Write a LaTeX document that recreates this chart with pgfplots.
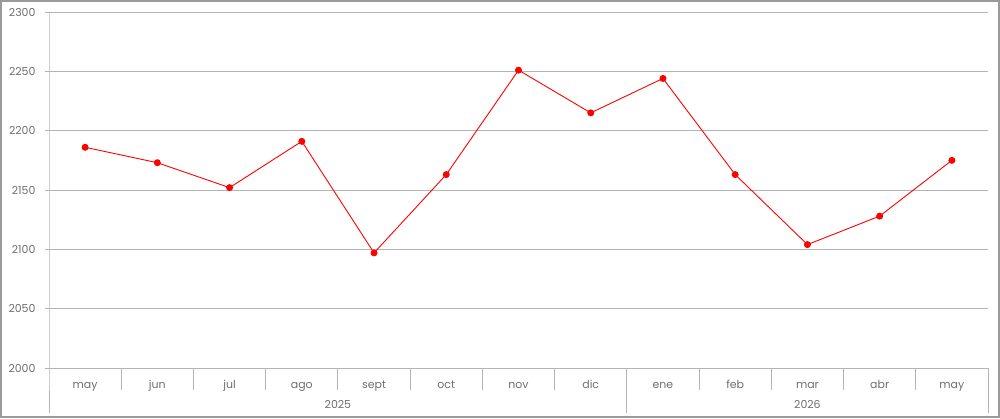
\documentclass[border=0pt]{standalone}
\usepackage{pgfplots}
\pgfplotsset{compat=1.18}
\usepackage{fontspec}
\setmainfont{Poppins}
\definecolor{gridgray}{HTML}{B4B4B4}
\definecolor{txtgray}{HTML}{6E6E6E}
\definecolor{framegray}{HTML}{9A9A9A}
\definecolor{linered}{HTML}{FF0000}
\begin{document}
\begin{tikzpicture}
\useasboundingbox (0,0) rectangle (1000bp,419bp);
\draw[framegray, line width=1.2bp] (1bp,2bp) rectangle (999bp,418bp);
\begin{axis}[
    at={(49bp,51bp)}, anchor=south west,
    scale only axis, width=939bp, height=356bp,
    xmin=-0.5, xmax=12.5, ymin=2000, ymax=2300,
    clip=false,
    axis line style={draw=none},
    ytick={2000,2050,...,2300},
    ymajorgrids, grid style={gridgray, line width=0.8bp},
    ytick pos=left, tick align=outside,
    major tick length=4bp,
    ytick style={gridgray, line width=0.8bp},
    xtick={0,...,12},
    xtick style={draw=none},
    xticklabels={may,jun,jul,ago,sept,oct,nov,dic,ene,feb,mar,abr,may},
    xticklabel style={anchor=base, yshift=-16bp},
    yticklabel style={xshift=-6bp},
    /pgf/number format/1000 sep={},
    /pgf/number format/assume math mode=true,
    tick label style={font=\fontsize{11}{13}\selectfont, text=txtgray},
]
\addplot[linered, line width=0.9bp, mark=*, mark size=3bp,
    mark options={fill=linered, draw=linered}]
    coordinates {(0,2186) (1,2173) (2,2152) (3,2191) (4,2097) (5,2163)
                 (6,2251) (7,2215) (8,2244) (9,2163) (10,2104) (11,2128) (12,2175)};
\draw[gridgray, line width=0.9bp] (rel axis cs:0,1) -- (rel axis cs:0,0)
    -- ([yshift=-45bp]rel axis cs:0,0);
\pgfplotsinvokeforeach{0.5,1.5,...,11.5}{
  \draw[gridgray, line width=0.9bp] (axis cs:#1,2000) -- ([yshift=-22bp]axis cs:#1,2000);
}
\draw[gridgray, line width=0.9bp] (axis cs:7.5,2000) -- ([yshift=-45bp]axis cs:7.5,2000);
\draw[gridgray, line width=0.9bp] (axis cs:12.5,2000) -- ([yshift=-45bp]axis cs:12.5,2000);
\node[anchor=base, text=txtgray, font=\fontsize{11}{13}\selectfont]
    at ([yshift=-40bp]axis cs:3.5,2000) {2025};
\node[anchor=base, text=txtgray, font=\fontsize{11}{13}\selectfont]
    at ([yshift=-40bp]axis cs:10,2000) {2026};
\end{axis}
\end{tikzpicture}
\end{document}
